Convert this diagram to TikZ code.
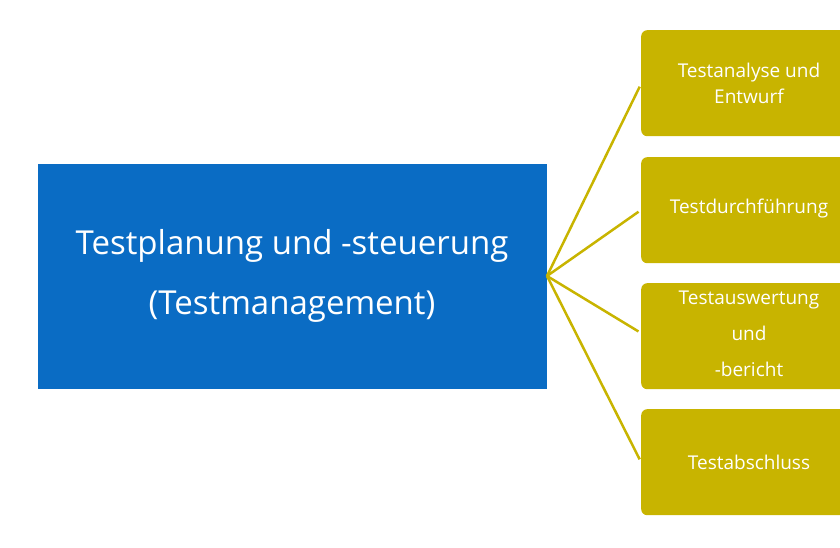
\documentclass[tikz,border=0pt]{standalone}
\usepackage{fontspec}
\setmainfont{Open Sans}
\definecolor{mblue}{HTML}{0A6CC4}
\definecolor{olive}{HTML}{C8B400}
\begin{document}
\begin{tikzpicture}[x=1pt,y=-1pt,
  sub/.style={fill=olive,rounded corners=6pt,minimum width=230pt,minimum height=106pt,anchor=north west,inner sep=0pt},
  lbl/.style={text=white,font=\fontsize{19}{26}\selectfont,align=center},
  conn/.style={draw=olive,line width=2.5pt,shorten >=3pt}]
\useasboundingbox (0,0) rectangle (840,548);
\node[fill=mblue,minimum width=509pt,minimum height=225pt,anchor=north west,inner sep=0pt] (main) at (38,164) {};
\node[text=white,font=\fontsize{33}{60}\selectfont,align=center] (mt) at (292,276) {Testplanung und -steuerung\\(Testmanagement)};
\node[sub] (b1) at (641,30) {};
\node[sub] (b2) at (641,157) {};
\node[sub] (b3) at (641,283) {};
\node[sub] (b4) at (641,409) {};
\node[lbl] (t1) at (749,83) {Testanalyse und\\Entwurf};
\node[lbl] (t2) at (749,209) {Testdurchführung};
\node[lbl,font=\fontsize{19}{36}\selectfont] (t3) at (749,334) {Testauswertung\\und\\-bericht};
\node[lbl] (t4) at (749,462) {Testabschluss};
\coordinate (h) at (547,276);
\draw[conn] (h) -- (b1.west |- 0,84) ;
\draw[conn] (h) -- (b2.west |- 0,210);
\draw[conn] (h) -- (b3.west |- 0,333);
\draw[conn] (h) -- (b4.west |- 0,462);
\end{tikzpicture}
\end{document}
